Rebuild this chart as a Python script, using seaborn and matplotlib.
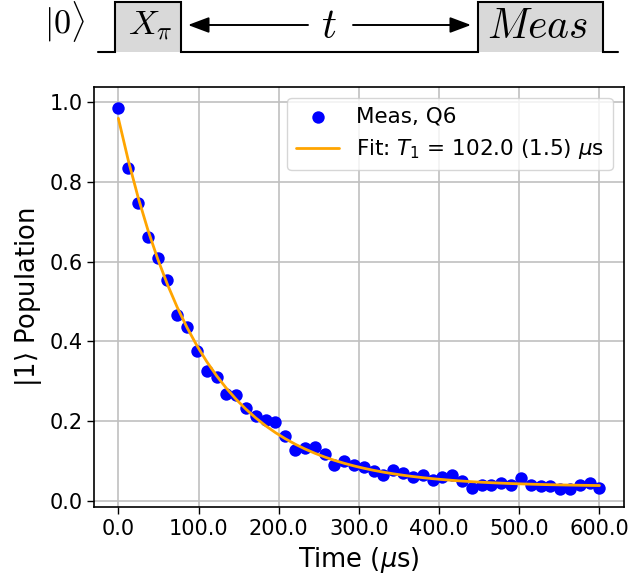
import numpy as np
import pandas as pd
import matplotlib
matplotlib.use("Agg")
import matplotlib.pyplot as plt
from matplotlib.ticker import FormatStrFormatter
from matplotlib.patches import Rectangle
import seaborn as sns

# ---- data ----
time_us = [0.0, 12.2, 24.5, 36.7, 49.0, 61.2, 73.5, 85.7, 98.0, 110.2,
           122.4, 134.7, 146.9, 159.2, 171.4, 183.7, 195.9, 208.2, 220.4, 232.7,
           244.9, 257.1, 269.4, 281.6, 293.9, 306.1, 318.4, 330.6, 342.9, 355.1,
           367.3, 379.6, 391.8, 404.1, 416.3, 428.6, 440.8, 453.1, 465.3, 477.6,
           489.8, 502.0, 514.3, 526.5, 538.8, 551.0, 563.3, 575.5, 587.8, 600.0]
population = [0.987, 0.836, 0.747, 0.663, 0.610, 0.555, 0.465, 0.435, 0.375, 0.325,
              0.311, 0.268, 0.266, 0.233, 0.213, 0.201, 0.197, 0.163, 0.127, 0.131,
              0.134, 0.117, 0.090, 0.099, 0.090, 0.084, 0.075, 0.065, 0.077, 0.069,
              0.060, 0.065, 0.052, 0.060, 0.063, 0.049, 0.032, 0.040, 0.038, 0.044,
              0.040, 0.057, 0.038, 0.036, 0.036, 0.029, 0.029, 0.040, 0.044, 0.032]
fit_T1 = 102.0
fit_T1_err = 1.5
fit_amplitude = 0.925
fit_offset = 0.035
x_ticks = [0, 100, 200, 300, 400, 500, 600]
y_ticks = [0.0, 0.2, 0.4, 0.6, 0.8, 1.0]

df = pd.DataFrame({"t": time_us, "p": population})
df["fit"] = fit_amplitude * np.exp(-df["t"] / fit_T1) + fit_offset

sns.set_theme(style="ticks")
plt.rcParams["font.family"] = ["DejaVu Sans"]
plt.rcParams["text.color"] = "black"

fig = plt.figure(figsize=(6.33, 5.82), dpi=100)
ax = fig.add_axes([0.149, 0.1284, 0.836, 0.7216])

sns.scatterplot(data=df, x="t", y="p", color="blue", s=80, linewidth=0,
                label="Meas, Q6", ax=ax, zorder=3)
sns.lineplot(data=df, x="t", y="fit", color="orange", linewidth=2,
             label=rf"Fit: $T_1$ = {fit_T1:.1f} ({fit_T1_err:.1f}) $\mu$s",
             ax=ax, zorder=4)

ax.set_xlim(-30, 630)
ax.set_ylim(-0.017, 1.038)
ax.set_xticks(x_ticks)
ax.set_yticks(y_ticks)
ax.xaxis.set_major_formatter(FormatStrFormatter("%.1f"))
ax.yaxis.set_major_formatter(FormatStrFormatter("%.1f"))
ax.tick_params(labelsize=15, length=5, width=1, color="black", labelcolor="black")
ax.grid(True, color="#c0c0c0", linewidth=1.2)
ax.set_axisbelow(True)
for s in ax.spines.values():
    s.set_color("black")
    s.set_linewidth(1.2)
ax.set_xlabel(r"Time ($\mu$s)", fontsize=18.5, color="black")
ax.set_ylabel(r"$|1\rangle$ Population", fontsize=18.5, color="black")
ax.legend(loc="upper right", fontsize=15.5, frameon=True, framealpha=0.8,
          edgecolor="0.8", fancybox=True)

# ---- pulse sequence diagram ----
axd = fig.add_axes([0, 1 - 60 / 582, 1, 60 / 582])
axd.set_xlim(0, 633)
axd.set_ylim(60, 0)
axd.axis("off")
base_y, top_y = 51.7, 1.7
axd.add_patch(Rectangle((115, top_y), 65.7, base_y - top_y, facecolor="#d9d9d9", edgecolor="none"))
axd.add_patch(Rectangle((478, top_y), 124.7, base_y - top_y, facecolor="#d9d9d9", edgecolor="none"))
axd.plot([98.3, 115, 115, 180.7, 180.7, 478, 478, 602.7, 602.7, 618],
         [base_y, base_y, top_y, top_y, base_y, base_y, top_y, top_y, base_y, base_y],
         color="black", linewidth=1.5, solid_joinstyle="miter")
axd.text(65, 34, r"$|0\rangle$", fontsize=24.5, ha="center", va="baseline",
         math_fontfamily="cm", color="black")
axd.text(150, 35, r"$X_\pi$", fontsize=25, ha="center", va="baseline",
         math_fontfamily="cm", color="black")
axd.text(329, 38.5, r"$t$", fontsize=30, ha="center", va="baseline",
         math_fontfamily="cm", color="black")
axd.text(538, 38, r"$Meas$", fontsize=30, ha="center", va="baseline",
         math_fontfamily="cm", color="black")
arrow_kw = dict(arrowstyle="-|>,head_length=0.4,head_width=0.15", color="black",
                lw=1.4, mutation_scale=32, shrinkA=0, shrinkB=0)
axd.annotate("", xy=(188, 25), xytext=(308, 25), arrowprops=arrow_kw)
axd.annotate("", xy=(471, 25), xytext=(353, 25), arrowprops=arrow_kw)

fig.savefig("out.png", dpi=100)
